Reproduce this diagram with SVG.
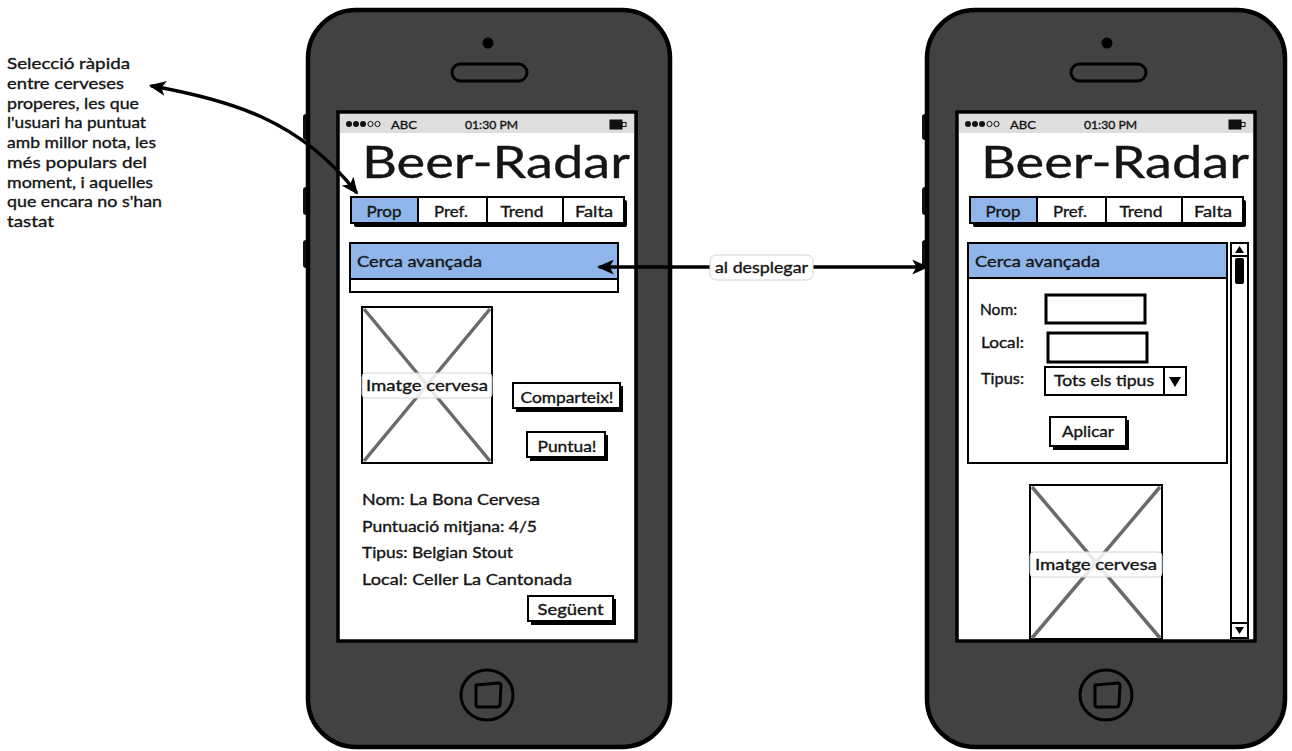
<svg xmlns="http://www.w3.org/2000/svg" width="1292" height="751" viewBox="0 0 1292 751">
  <style>
    .ph{fill:#424242;stroke:#000;stroke-width:4.5}
    .bump{fill:#111}
    .scr{fill:#fff;stroke:#000;stroke-width:3.5}
    .sb{fill:#dedede}
    .f{font-family:Lato,"Noto Sans",sans-serif;fill:#151515;stroke:#151515;stroke-width:0.35}
    .bx{fill:#fff;stroke:#000;stroke-width:2}
    .in{fill:#fff;stroke:#000;stroke-width:3}
    .sh{fill:#000}
    .sel{fill:#8fb5ea;stroke:#000;stroke-width:2}
    .xl{stroke:#6a6a6a;stroke-width:3.5}
    .cap{fill:#fff;fill-opacity:.85;stroke:#d4d4d4;stroke-width:1}
    .conn{fill:none;stroke:#000;stroke-width:3.5;stroke-linecap:round}
    .home{fill:none;stroke:#000;stroke-width:3;stroke-linejoin:round}
  </style>
  <defs>
    <marker id="ah" viewBox="0 0 16 14" refX="13" refY="7" markerWidth="17" markerHeight="15" markerUnits="userSpaceOnUse" orient="auto-start-reverse">
      <path d="M0,0 L16,7 L0,14 L4,7 Z" fill="#000"/>
    </marker>
    <!-- shared phone chrome: status bar, title and tab strip -->
    <g id="chrome">
      <rect class="sb" x="340" y="114" width="294" height="19"/>
      <circle cx="349" cy="124" r="3" fill="#111"/>
      <circle cx="356" cy="124" r="3" fill="#111"/>
      <circle cx="363" cy="124" r="3" fill="#111"/>
      <circle cx="370.5" cy="124" r="2.6" fill="none" stroke="#111" stroke-width="1"/>
      <circle cx="377.5" cy="124" r="2.6" fill="none" stroke="#111" stroke-width="1"/>
      <text class="f" x="391" y="128.5" font-size="12" textLength="26" lengthAdjust="spacingAndGlyphs">ABC</text>
      <text class="f" x="465" y="128.5" font-size="12" textLength="53" lengthAdjust="spacingAndGlyphs">01:30 PM</text>
      <rect x="610" y="120" width="12" height="9" fill="#111" stroke="#111" stroke-width="1"/>
      <rect x="622" y="122.5" width="4" height="4" fill="none" stroke="#111" stroke-width="1"/>
      <text class="f" x="362" y="178" font-size="45" textLength="268" lengthAdjust="spacingAndGlyphs">Beer-Radar</text>
      <rect class="sh" x="354" y="200" width="273" height="27" rx="2"/>
      <rect class="bx" x="351" y="197" width="273" height="26"/>
      <rect class="sel" x="351" y="197" width="67" height="26"/>
      <line x1="487" y1="197" x2="487" y2="223" stroke="#000" stroke-width="2"/>
      <line x1="563" y1="197" x2="563" y2="223" stroke="#000" stroke-width="2"/>
      <text class="f" x="384" y="217" font-size="15.5" text-anchor="middle" textLength="35" lengthAdjust="spacingAndGlyphs">Prop</text>
      <text class="f" x="451" y="217" font-size="15.5" text-anchor="middle" textLength="34" lengthAdjust="spacingAndGlyphs">Pref.</text>
      <text class="f" x="522" y="217" font-size="15.5" text-anchor="middle" textLength="43" lengthAdjust="spacingAndGlyphs">Trend</text>
      <text class="f" x="594" y="217" font-size="15.5" text-anchor="middle" textLength="38" lengthAdjust="spacingAndGlyphs">Falta</text>
    </g>
    <!-- earpiece, camera and home button -->
    <g id="hardware">
      <circle cx="488" cy="43" r="5.5" fill="#000"/>
      <rect x="452" y="64" width="75" height="17" rx="8.5" fill="#424242" stroke="#000" stroke-width="3"/>
      <ellipse cx="487" cy="695" rx="26" ry="25" class="home"/>
      <path class="home" d="M476,685 L499,683 Q501,683 501,686 L500,704 Q500,707 497,707 L478,707 Q476,707 476,704 Z"/>
    </g>
  </defs>

  <!-- note on the quick-filter tabs -->
  <g id="note" class="f" font-size="16">
    <text x="7" y="69" textLength="123" lengthAdjust="spacingAndGlyphs">Selecció ràpida</text>
    <text x="7" y="88.8" textLength="117" lengthAdjust="spacingAndGlyphs">entre cerveses</text>
    <text x="7" y="108.5" textLength="132" lengthAdjust="spacingAndGlyphs">properes, les que</text>
    <text x="7" y="128.3" textLength="139" lengthAdjust="spacingAndGlyphs">l'usuari ha puntuat</text>
    <text x="7" y="148" textLength="149" lengthAdjust="spacingAndGlyphs">amb millor nota, les</text>
    <text x="7" y="167.8" textLength="140" lengthAdjust="spacingAndGlyphs">més populars del</text>
    <text x="7" y="187.5" textLength="146" lengthAdjust="spacingAndGlyphs">moment, i aquelles</text>
    <text x="7" y="207.3" textLength="155" lengthAdjust="spacingAndGlyphs">que encara no s'han</text>
    <text x="7" y="227" textLength="47" lengthAdjust="spacingAndGlyphs">tastat</text>
  </g>

  <!-- main screen: browsing one beer -->
  <g id="phone-left">
    <rect class="bump" x="303" y="114" width="8" height="26" rx="3"/>
    <rect class="bump" x="303" y="187" width="8" height="28" rx="3"/>
    <rect class="bump" x="303" y="240" width="8" height="28" rx="3"/>
    <rect class="ph" x="308" y="10" width="362" height="737" rx="48"/>
    <rect class="scr" x="338" y="112" width="298" height="529"/>
    <use href="#hardware"/>
    <use href="#chrome"/>
    <!-- collapsed advanced search -->
    <rect class="bx" x="350" y="243" width="268" height="49" stroke-width="2.5"/>
    <rect class="sel" x="350" y="243" width="268" height="36"/>
    <text class="f" x="357" y="266.5" font-size="15" textLength="125" lengthAdjust="spacingAndGlyphs">Cerca avançada</text>
    <!-- beer picture placeholder -->
    <rect class="bx" x="362" y="307" width="130" height="156"/>
    <line class="xl" x1="364" y1="309" x2="490" y2="461"/>
    <line class="xl" x1="490" y1="309" x2="364" y2="461"/>
    <rect class="cap" x="362" y="373" width="130" height="25" rx="4"/>
    <text class="f" x="427" y="391" font-size="15" text-anchor="middle" textLength="122" lengthAdjust="spacingAndGlyphs">Imatge cervesa</text>
    <!-- action buttons -->
    <rect class="sh" x="516" y="386" width="107" height="26"/>
    <rect class="bx" x="513" y="383" width="107" height="25"/>
    <text class="f" x="567" y="402.5" font-size="15" text-anchor="middle" textLength="93" lengthAdjust="spacingAndGlyphs">Comparteix!</text>
    <rect class="sh" x="530" y="435" width="78" height="26"/>
    <rect class="bx" x="527" y="432" width="78" height="25"/>
    <text class="f" x="567" y="451.5" font-size="15" text-anchor="middle" textLength="59" lengthAdjust="spacingAndGlyphs">Puntua!</text>
    <!-- beer details -->
    <text class="f" x="362" y="505" font-size="15.5" textLength="178" lengthAdjust="spacingAndGlyphs">Nom: La Bona Cervesa</text>
    <text class="f" x="362" y="532" font-size="15.5" textLength="175" lengthAdjust="spacingAndGlyphs">Puntuació mitjana: 4/5</text>
    <text class="f" x="362" y="558" font-size="15.5" textLength="151" lengthAdjust="spacingAndGlyphs">Tipus: Belgian Stout</text>
    <text class="f" x="362" y="585" font-size="15.5" textLength="210" lengthAdjust="spacingAndGlyphs">Local: Celler La Cantonada</text>
    <rect class="sh" x="531" y="599" width="85" height="26"/>
    <rect class="bx" x="528" y="596" width="85" height="25"/>
    <text class="f" x="570.5" y="615" font-size="15" text-anchor="middle" textLength="66" lengthAdjust="spacingAndGlyphs">Següent</text>
  </g>

  <!-- same screen with the advanced search expanded -->
  <g id="phone-right">
    <rect class="bump" x="922" y="114" width="8" height="26" rx="3"/>
    <rect class="bump" x="922" y="187" width="8" height="28" rx="3"/>
    <rect class="bump" x="922" y="240" width="8" height="28" rx="3"/>
    <rect class="ph" x="927" y="10" width="358" height="737" rx="48"/>
    <rect class="scr" x="957" y="112" width="298" height="529"/>
    <use href="#hardware" transform="translate(619,0)"/>
    <use href="#chrome" transform="translate(619,0)"/>
    <!-- picture placeholder, scrolled partly out of view -->
    <rect class="bx" x="1030" y="485" width="132" height="154"/>
    <line class="xl" x1="1032" y1="487" x2="1160" y2="638"/>
    <line class="xl" x1="1160" y1="487" x2="1032" y2="638"/>
    <rect class="cap" x="1030" y="552" width="132" height="25" rx="4"/>
    <text class="f" x="1096" y="570" font-size="15" text-anchor="middle" textLength="122" lengthAdjust="spacingAndGlyphs">Imatge cervesa</text>
    <!-- scrollbar -->
    <rect class="bx" x="1231" y="243" width="17" height="395"/>
    <rect class="bx" x="1231" y="243" width="17" height="13"/>
    <path d="M1235,253 L1244,253 L1239.5,246 Z" fill="#000"/>
    <rect x="1235" y="258" width="9" height="26" rx="2" fill="#000"/>
    <rect class="bx" x="1231" y="623" width="17" height="15"/>
    <path d="M1235,627 L1244,627 L1239.5,634 Z" fill="#000"/>
    <!-- expanded advanced search form -->
    <rect class="bx" x="968" y="243" width="259" height="220" stroke-width="2.5"/>
    <rect class="sel" x="968" y="243" width="259" height="35"/>
    <text class="f" x="975" y="266.5" font-size="15" textLength="125" lengthAdjust="spacingAndGlyphs">Cerca avançada</text>
    <text class="f" x="980" y="315" font-size="15" textLength="37" lengthAdjust="spacingAndGlyphs">Nom:</text>
    <rect class="in" x="1046" y="295" width="99" height="28"/>
    <text class="f" x="981" y="348" font-size="15" textLength="43" lengthAdjust="spacingAndGlyphs">Local:</text>
    <rect class="in" x="1048" y="333" width="99" height="29"/>
    <text class="f" x="981" y="384" font-size="15" textLength="43" lengthAdjust="spacingAndGlyphs">Tipus:</text>
    <rect class="bx" x="1045" y="367" width="141" height="28" stroke-width="2.5"/>
    <line x1="1164" y1="367" x2="1164" y2="395" stroke="#000" stroke-width="2"/>
    <text class="f" x="1054" y="386" font-size="15" textLength="100" lengthAdjust="spacingAndGlyphs">Tots els tipus</text>
    <path d="M1169,377 L1181,377 L1175,387 Z" fill="#000"/>
    <rect class="sh" x="1053" y="420" width="76" height="30"/>
    <rect class="bx" x="1050" y="417" width="76" height="29"/>
    <text class="f" x="1088" y="437" font-size="15" text-anchor="middle" textLength="52" lengthAdjust="spacingAndGlyphs">Aplicar</text>
  </g>

  <!-- connectors -->
  <g id="connectors">
    <path class="conn" d="M152,86 C230,100 300,120 356,192" marker-start="url(#ah)" marker-end="url(#ah)"/>
    <path class="conn" d="M600,267 L926,267" marker-start="url(#ah)" marker-end="url(#ah)"/>
    <rect x="710" y="255" width="103" height="25" rx="6" fill="#fff" stroke="#d4d4d4" stroke-width="1"/>
    <text class="f" x="761.5" y="272.5" font-size="15" text-anchor="middle" textLength="93" lengthAdjust="spacingAndGlyphs">al desplegar</text>
  </g>
</svg>
